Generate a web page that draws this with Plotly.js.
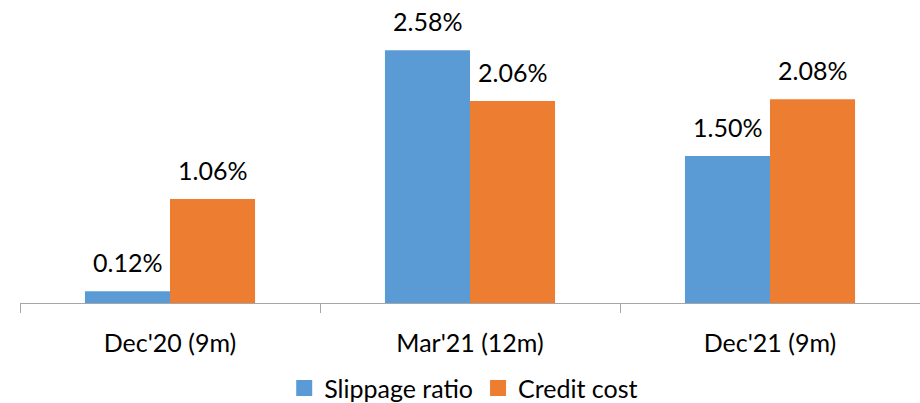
<!DOCTYPE html>
<html>
<head>
<meta charset="utf-8">
<script src="https://cdn.plot.ly/plotly-3.0.1.min.js"></script>
<style>html,body{margin:0;padding:0;background:#fff;}#chart{width:920px;height:403px;}</style>
</head>
<body>
<div id="chart"></div>
<script>
const categories = ["Dec'20 (9m)", "Mar'21 (12m)", "Dec'21 (9m)"];
const slippageRatio = [0.12, 2.58, 1.50];
const creditCost = [1.06, 2.06, 2.08];
const seriesNames = ["Slippage ratio", "Credit cost"];
const colors = ['#5B9BD5', '#ED7D31'];

const font = "Lato, 'Open Sans', sans-serif";
const FS = 25;
const series = [slippageRatio, creditCost];
const traces = [];
series.forEach((vals, s) => {
  traces.push({type: 'bar', name: seriesNames[s], x: categories, y: vals,
    marker: {color: colors[s]}, hoverinfo: 'none', showlegend: false});
});
series.forEach((vals, s) => {
  traces.push({type: 'scatter', mode: 'markers', name: seriesNames[s], x: [null], y: [null],
    marker: {color: colors[s], symbol: 'square', size: 16}, hoverinfo: 'none'});
});
const annotations = [];
series.forEach((vals, s) => {
  vals.forEach((v, i) => {
    annotations.push({x: categories[i], y: v, xref: 'x', yref: 'y',
      text: v.toFixed(2) + '%', showarrow: false, yanchor: 'bottom', xanchor: 'center',
      xshift: s === 0 ? -42.5 : 42.5, yshift: 12,
      font: {size: FS, family: font, color: '#000'}});
  });
});
const layout = {
  width: 920, height: 403,
  margin: {l: 20, r: 0, t: 9, b: 100, autoexpand: false},
  barmode: 'group', bargap: 0.433, bargroupgap: 0,
  paper_bgcolor: '#fff', plot_bgcolor: '#fff',
  font: {family: font, size: FS, color: '#000'},
  showlegend: true,
  legend: {orientation: 'h', x: 0.493, xanchor: 'center', y: -0.29, yanchor: 'middle',
           font: {size: FS, family: font}, itemwidth: 30, tracegroupgap: 0},
  annotations: annotations,
  xaxis: {type: 'category', range: [-0.5, 2.5], showline: true, linecolor: '#A6A6A6', linewidth: 1,
          ticks: 'outside', tickson: 'boundaries', ticklen: 9, tickcolor: '#A6A6A6',
          ticklabelstandoff: 18, automargin: false,
          showgrid: false, zeroline: false, tickfont: {size: FS, family: font}},
  yaxis: {range: [0, 3], visible: false, showgrid: false, zeroline: false, automargin: false}
};
Plotly.newPlot('chart', traces, layout, {displayModeBar: false, staticPlot: true});
</script>
</body>
</html>
